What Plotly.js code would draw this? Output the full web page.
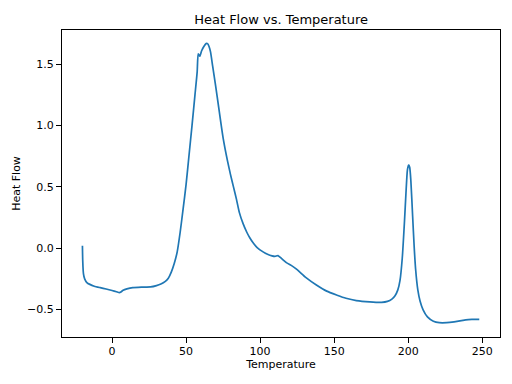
<!DOCTYPE html>
<html>
<head>
<meta charset="utf-8">
<script src="https://cdn.plot.ly/plotly-3.0.1.min.js"></script>
<style>html,body{margin:0;padding:0;background:#fff;}#chart{width:512px;height:384px;}</style>
</head>
<body>
<div id="chart"></div>
<script>
const temperature = [-20, -19.8, -19.3, -18.5, -17, -15, -12, -8, -4, 0, 3, 5, 6, 7.5, 10, 14, 20, 26, 30, 33, 36, 38, 40, 42, 44, 46, 48, 50, 52, 54, 56, 57.5, 58.2, 59.2, 60.5, 62, 63.5, 64.5, 65.5, 66.5, 68, 70, 72, 75, 78, 80, 82, 84, 86, 88.5, 91, 93, 95.5, 98, 102, 105, 108, 110, 112, 114.5, 118, 121, 125, 131, 138, 145, 152, 158, 165, 174, 182, 186, 189, 191, 193, 194.5, 196, 197.5, 198.5, 199.5, 200.3, 201, 201.8, 203, 204, 205, 206.5, 208, 210, 213, 217, 221, 226, 231, 237, 243, 248];
const heatFlow = [0.02, -0.1, -0.21, -0.25, -0.28, -0.295, -0.31, -0.322, -0.333, -0.345, -0.355, -0.362, -0.357, -0.343, -0.332, -0.322, -0.318, -0.316, -0.305, -0.292, -0.27, -0.245, -0.195, -0.125, -0.03, 0.13, 0.32, 0.52, 0.76, 1.0, 1.25, 1.44, 1.585, 1.565, 1.61, 1.645, 1.668, 1.668, 1.645, 1.6, 1.48, 1.32, 1.15, 0.9, 0.71, 0.6, 0.5, 0.4, 0.29, 0.2, 0.13, 0.085, 0.04, 0.005, -0.03, -0.05, -0.063, -0.067, -0.06, -0.085, -0.12, -0.14, -0.175, -0.24, -0.3, -0.35, -0.383, -0.408, -0.427, -0.438, -0.442, -0.434, -0.415, -0.39, -0.34, -0.26, -0.08, 0.22, 0.45, 0.64, 0.68, 0.66, 0.55, 0.26, 0.02, -0.17, -0.34, -0.43, -0.5, -0.56, -0.595, -0.607, -0.607, -0.6, -0.588, -0.58, -0.58];
const xTicks = [0, 50, 100, 150, 200, 250];
const yTicks = [-0.5, 0.0, 0.5, 1.0, 1.5];
const titleText = 'Heat Flow vs. Temperature';
const xLabel = 'Temperature';
const yLabel = 'Heat Flow';

const font = {family: 'DejaVu Sans', size: 11, color: '#000'};
const axisCommon = {
  showgrid: false, zeroline: false, showline: true, mirror: true,
  linecolor: '#000', linewidth: 1, ticks: 'outside', ticklen: 5, tickwidth: 1,
  tickcolor: '#000', tickfont: font
};
Plotly.newPlot('chart', [{
  x: temperature, y: heatFlow, type: 'scatter', mode: 'lines',
  line: {color: '#1f77b4', width: 1.7, shape: 'spline', smoothing: 0.6}
}], {
  width: 512, height: 384,
  margin: {l: 62, r: 12, t: 30, b: 47},
  paper_bgcolor: '#fff', plot_bgcolor: '#fff',
  font: font,
  showlegend: false,
  title: {text: titleText, font: {family: 'DejaVu Sans', size: 13, color: '#000'}, x: 0.549, xanchor: 'center', y: 0.95, yanchor: 'middle', yref: 'container'},
  xaxis: Object.assign({}, axisCommon, {
    range: [-33.8, 262], tickvals: xTicks, ticktext: xTicks.map(String),
    ticklabelstandoff: -1,
    title: {text: xLabel, font: font, standoff: 3}
  }),
  yaxis: Object.assign({}, axisCommon, {
    range: [-0.724, 1.779], tickvals: yTicks, ticktext: yTicks.map(v => (v < 0 ? '\u2212' : '') + Math.abs(v).toFixed(1)),
    title: {text: yLabel, font: font, standoff: 4}
  })
}, {staticPlot: true, displayModeBar: false});
</script>
</body>
</html>
